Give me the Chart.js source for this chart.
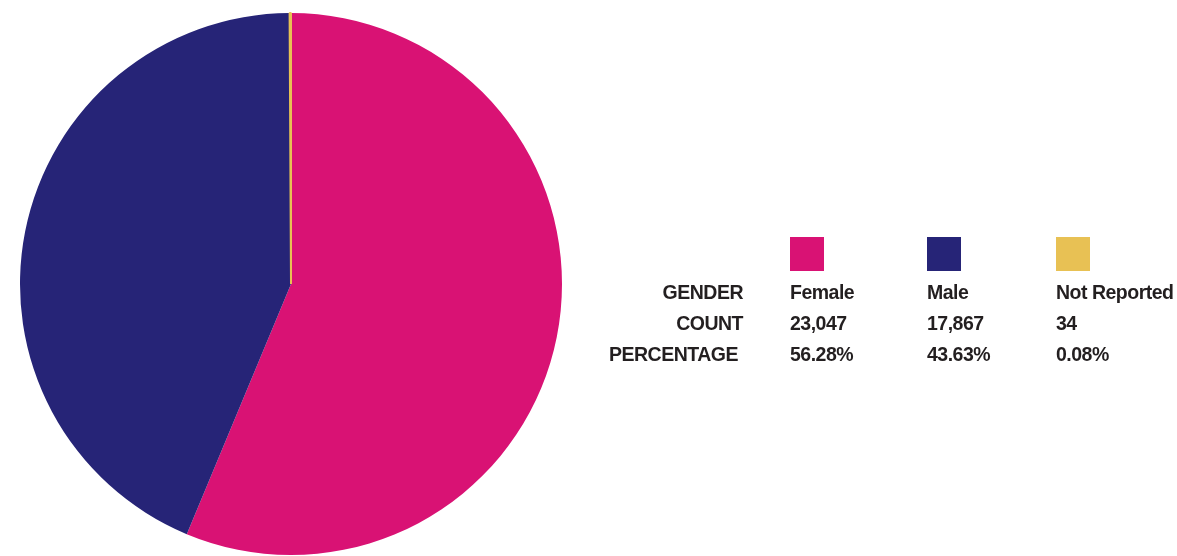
<!DOCTYPE html>
<html>
<head>
<meta charset="utf-8">
<script src="https://cdn.jsdelivr.net/npm/chart.js@4.4.0/dist/chart.umd.min.js"></script>
<style>
    html, body {
        margin: 0;
        padding: 0;
        background: #ffffff;
        width: 1177px;
        height: 556px;
        overflow: hidden;
    }
    #pieWrap {
        position: absolute;
        left: 19px;
        top: 12px;
        width: 544px;
        height: 544px;
    }
    .txt {
        position: absolute;
        font-family: "Liberation Sans", Arial, sans-serif;
        font-weight: bold;
        font-size: 19.5px;
        letter-spacing: -0.5px;
        line-height: 31px;
        color: #231f20;
        white-space: nowrap;
    }
    .label { text-align: right; width: 200px; }
    .swatch { position: absolute; width: 34px; height: 34px; }
</style>
</head>
<body>
<div id="pieWrap"><canvas id="genderChart"></canvas></div>
<div id="legendTable"></div>

<script>
// Chart data
const categories = ['Female', 'Male', 'Not Reported'];
const counts = [23047, 17867, 34];
const percentages = ['56.28%', '43.63%', '0.08%'];
const colors = ['#d91274', '#262477', '#e8c154'];
const rowLabels = ['GENDER', 'COUNT', 'PERCENTAGE'];

document.addEventListener('DOMContentLoaded', () => {
    createPieChart();
    buildLegendTable();
});

/**
 * Pie chart
 */
function createPieChart() {
    const ctx = document.getElementById('genderChart');
    new Chart(ctx, {
        type: 'pie',
        data: {
            labels: categories,
            datasets: [{
                data: counts,
                backgroundColor: colors,
                // tiny slice gets an outline in its own colour so it stays visible
                borderColor: colors,
                borderWidth: [0, 0, 2]
            }]
        },
        options: {
            responsive: true,
            maintainAspectRatio: false,
            animation: false,
            layout: { padding: 0 },
            plugins: {
                legend: { display: false },
                tooltip: { enabled: false }
            }
        }
    });
}

/**
 * Legend table to the right (swatches + rows of text)
 */
function buildLegendTable() {
    const holder = document.getElementById('legendTable');
    const colX = [790, 927, 1056];
    const rowTop = [277, 308, 339];
    const labelRight = [743, 743, 738];

    // row labels, right aligned
    rowLabels.forEach((lbl, i) => {
        const d = document.createElement('div');
        d.className = 'txt label';
        d.style.left = (labelRight[i] - 200) + 'px';
        d.style.top = rowTop[i] + 'px';
        d.textContent = lbl;
        holder.appendChild(d);
    });

    categories.forEach((cat, j) => {
        const sw = document.createElement('div');
        sw.className = 'swatch';
        sw.style.left = colX[j] + 'px';
        sw.style.top = '237px';
        sw.style.background = colors[j];
        holder.appendChild(sw);

        const values = [cat, counts[j].toLocaleString('en-US'), percentages[j]];
        values.forEach((v, i) => {
            const d = document.createElement('div');
            d.className = 'txt';
            d.style.left = colX[j] + 'px';
            d.style.top = rowTop[i] + 'px';
            d.textContent = v;
            holder.appendChild(d);
        });
    });
}
</script>
</body>
</html>
